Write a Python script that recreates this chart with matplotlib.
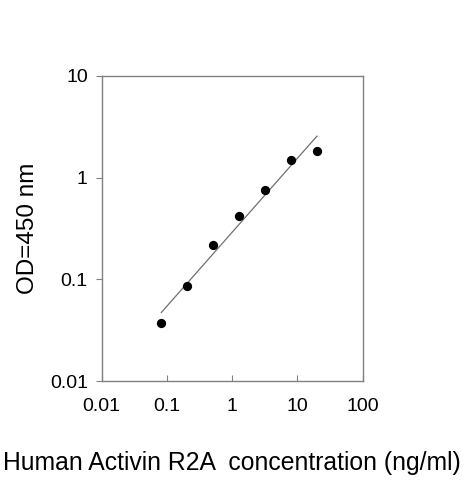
import numpy as np
import matplotlib
matplotlib.use("Agg")
import matplotlib.pyplot as plt

plt.rcParams['font.family'] = ['Liberation Sans', 'DejaVu Sans']

# standard curve data
conc = [0.082, 0.205, 0.51, 1.28, 3.2, 8.0, 20.0]
od = [0.037, 0.087, 0.22, 0.42, 0.75, 1.5, 1.84]

x_ticks = [0.01, 0.1, 1, 10, 100]
x_labels = ["0.01", "0.1", "1", "10", "100"]
y_ticks = [0.01, 0.1, 1, 10]
y_labels = ["0.01", "0.1", "1", "10"]

fig = plt.figure(figsize=(4.63, 4.80), dpi=100)
ax = fig.add_axes([0.2197, 0.206, 0.5633, 0.6357])

# power-law trend line through the points
k, b = np.polyfit(np.log10(conc), np.log10(od), 1)
xf = np.array([conc[0], conc[-1]])
ax.plot(xf, 10 ** (k * np.log10(xf) + b), color="#707070", lw=0.9)

ax.scatter(conc, od, s=32, color="black", zorder=3)

ax.set_xscale("log")
ax.set_yscale("log")
ax.set_xlim(0.01, 100)
ax.set_ylim(0.01, 10)
ax.set_xticks(x_ticks)
ax.set_xticklabels(x_labels)
ax.set_yticks(y_ticks)
ax.set_yticklabels(y_labels)
ax.minorticks_off()

for s in ax.spines.values():
    s.set_color("#808080")
    s.set_linewidth(1.0)
ax.tick_params(axis="x", direction="in", length=4, color="#808080", labelsize=14, pad=12)
ax.tick_params(axis="y", direction="out", length=4, color="#808080", labelsize=14, pad=6)

ax.set_ylabel("OD=450 nm", fontsize=17.5, labelpad=8)
fig.text(0.5, 0.035, "Human Activin R2A  concentration (ng/ml)", fontsize=17.8,
         ha="center", va="center")

fig.savefig("out.png", dpi=100)
